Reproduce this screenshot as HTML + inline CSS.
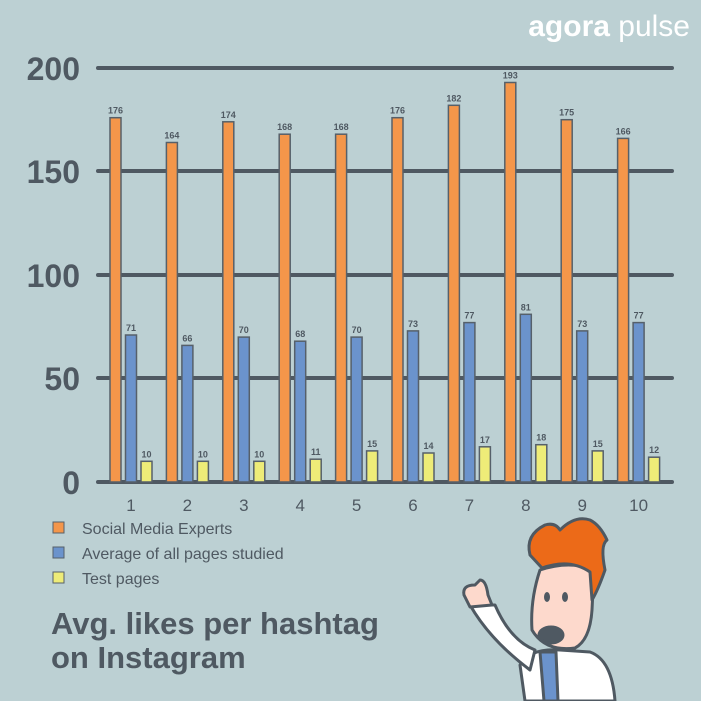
<!DOCTYPE html>
<html><head><style>
body{margin:0;background:#bcd0d3;}
svg{display:block}
</style></head><body>
<svg width="701" height="701" xmlns="http://www.w3.org/2000/svg" font-family="Liberation Sans, sans-serif">
<rect width="701" height="701" fill="#bcd0d3"/>
<text x="690" y="36" text-anchor="end" font-size="30" fill="#fff"><tspan font-weight="bold">agora</tspan> pulse</text>
<g stroke="#4f5962" stroke-width="4" stroke-linecap="round">
<line x1="98" y1="68" x2="672" y2="68"/>
<line x1="98" y1="171" x2="672" y2="171"/>
<line x1="98" y1="275" x2="672" y2="275"/>
<line x1="98" y1="378" x2="672" y2="378"/>
<line x1="98" y1="482" x2="672" y2="482"/>
</g>
<g font-size="32" font-weight="bold" fill="#4f5962" text-anchor="end">
<text x="80" y="80">200</text><text x="80" y="183">150</text><text x="80" y="287">100</text><text x="80" y="390">50</text><text x="80" y="494">0</text>
</g>
<g stroke="#56606a" stroke-width="1.5">
<g fill="#f4964a">
<rect x="110" y="117.7" width="11" height="364.3"/>
<rect x="166.4" y="142.5" width="11" height="339.5"/>
<rect x="222.8" y="121.8" width="11" height="360.2"/>
<rect x="279.2" y="134.2" width="11" height="347.8"/>
<rect x="335.6" y="134.2" width="11" height="347.8"/>
<rect x="392" y="117.7" width="11" height="364.3"/>
<rect x="448.4" y="105.3" width="11" height="376.7"/>
<rect x="504.8" y="82.5" width="11" height="399.5"/>
<rect x="561.2" y="119.7" width="11" height="362.3"/>
<rect x="617.6" y="138.4" width="11" height="343.6"/>
</g>
<g fill="#6b93cc">
<rect x="125.5" y="335" width="11" height="147"/>
<rect x="181.9" y="345.4" width="11" height="136.6"/>
<rect x="238.3" y="337.1" width="11" height="144.9"/>
<rect x="294.7" y="341.2" width="11" height="140.8"/>
<rect x="351.1" y="337.1" width="11" height="144.9"/>
<rect x="407.5" y="330.9" width="11" height="151.1"/>
<rect x="463.9" y="322.6" width="11" height="159.4"/>
<rect x="520.3" y="314.3" width="11" height="167.7"/>
<rect x="576.7" y="330.9" width="11" height="151.1"/>
<rect x="633.1" y="322.6" width="11" height="159.4"/>
</g>
<g fill="#eeec78">
<rect x="141" y="461.3" width="11" height="20.7"/>
<rect x="197.4" y="461.3" width="11" height="20.7"/>
<rect x="253.8" y="461.3" width="11" height="20.7"/>
<rect x="310.2" y="459.2" width="11" height="22.8"/>
<rect x="366.6" y="450.9" width="11" height="31.1"/>
<rect x="423" y="453" width="11" height="29"/>
<rect x="479.4" y="446.8" width="11" height="35.2"/>
<rect x="535.8" y="444.7" width="11" height="37.3"/>
<rect x="592.2" y="450.9" width="11" height="31.1"/>
<rect x="648.6" y="457.2" width="11" height="24.8"/>
</g>
</g>
<g font-size="9" font-weight="bold" fill="#4f5962" text-anchor="middle">
<text x="115.5" y="113.7">176</text><text x="171.9" y="138.5">164</text><text x="228.3" y="117.8">174</text><text x="284.7" y="130.2">168</text><text x="341.1" y="130.2">168</text><text x="397.5" y="113.7">176</text><text x="453.9" y="101.3">182</text><text x="510.3" y="78.5">193</text><text x="566.7" y="115.7">175</text><text x="623.1" y="134.4">166</text>
<text x="131" y="331">71</text><text x="187.4" y="341.4">66</text><text x="243.8" y="333.1">70</text><text x="300.2" y="337.2">68</text><text x="356.6" y="333.1">70</text><text x="413" y="326.9">73</text><text x="469.4" y="318.6">77</text><text x="525.8" y="310.3">81</text><text x="582.2" y="326.9">73</text><text x="638.6" y="318.6">77</text>
<text x="146.5" y="457.3">10</text><text x="202.9" y="457.3">10</text><text x="259.3" y="457.3">10</text><text x="315.7" y="455.2">11</text><text x="372.1" y="446.9">15</text><text x="428.5" y="449">14</text><text x="484.9" y="442.8">17</text><text x="541.3" y="440.7">18</text><text x="597.7" y="446.9">15</text><text x="654.1" y="453.2">12</text>
</g>
<g font-size="17" fill="#4f5962" text-anchor="middle">
<text x="131" y="511">1</text><text x="187.4" y="511">2</text><text x="243.8" y="511">3</text><text x="300.2" y="511">4</text><text x="356.6" y="511">5</text><text x="413" y="511">6</text><text x="469.4" y="511">7</text><text x="525.8" y="511">8</text><text x="582.2" y="511">9</text><text x="638.6" y="511">10</text>
</g>
<rect x="53" y="522" width="11" height="11" fill="#f4964a" stroke="#56606a"/>
<rect x="53" y="547" width="11" height="11" fill="#6b93cc" stroke="#56606a"/>
<rect x="53" y="572" width="11" height="11" fill="#eeec78" stroke="#56606a"/>
<g font-size="16" fill="#4f5962">
<text x="82" y="534">Social Media Experts</text>
<text x="82" y="559">Average of all pages studied</text>
<text x="82" y="584">Test pages</text>
</g>
<g font-size="31" font-weight="bold" fill="#4f5962">
<text x="51" y="634">Avg. likes per hashtag</text>
<text x="51" y="668">on Instagram</text>
</g>
<g stroke="#4f5962" stroke-width="3" stroke-linejoin="round">
<path d="M525 701 L520 665 Q530 648 560 650 L590 652 Q612 660 615 701 Z" fill="#fff"/>
<path d="M540 652 L556 652 L558 701 L544 701 Z" fill="#6b93cc"/>
<path d="M470 605 Q490 640 530 670 L535 650 Q510 640 495 605 Z" fill="#fff"/>
<path d="M464 595 Q462 585 475 585 L480 580 Q486 580 488 595 L492 605 L470 607 Z" fill="#fdd9cc"/>
<path d="M540 570 Q530 600 532 630 Q545 652 575 648 Q590 640 592 610 L594 570 Q570 560 540 570 Z" fill="#fdd9cc"/>
<path d="M530 555 Q525 535 545 525 Q555 522 560 530 Q575 515 590 520 Q600 525 607 540 Q600 545 605 570 Q598 590 592 600 L590 572 Q570 558 542 568 Z" fill="#ec6a18"/>
<ellipse cx="551" cy="635" rx="12" ry="8" fill="#4f5962"/>
</g>
<ellipse cx="547" cy="597" rx="3" ry="5" fill="#4f5962"/>
<ellipse cx="565" cy="597" rx="3" ry="5" fill="#4f5962"/>
</svg>
</body></html>
